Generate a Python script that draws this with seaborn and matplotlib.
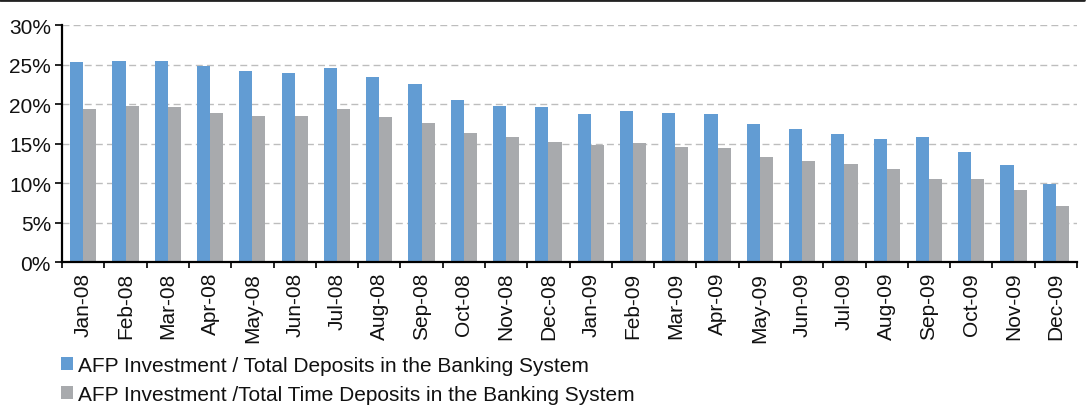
import numpy as np
import pandas as pd
import matplotlib
matplotlib.use("Agg")
import matplotlib.pyplot as plt
import seaborn as sns
from matplotlib.lines import Line2D
from matplotlib.patches import Patch
from matplotlib.ticker import FuncFormatter, FixedLocator

months = ["Jan-08", "Feb-08", "Mar-08", "Apr-08", "May-08", "Jun-08", "Jul-08", "Aug-08",
          "Sep-08", "Oct-08", "Nov-08", "Dec-08", "Jan-09", "Feb-09", "Mar-09", "Apr-09",
          "May-09", "Jun-09", "Jul-09", "Aug-09", "Sep-09", "Oct-09", "Nov-09", "Dec-09"]
total_deposits = [25.4, 25.5, 25.5, 24.9, 24.2, 24.0, 24.6, 23.5,
                  22.6, 20.5, 19.8, 19.7, 18.8, 19.1, 18.9, 18.8,
                  17.5, 16.9, 16.2, 15.6, 15.9, 13.9, 12.3, 9.9]
time_deposits = [19.4, 19.8, 19.7, 18.9, 18.5, 18.5, 19.4, 18.4,
                 17.6, 16.4, 15.9, 15.2, 14.8, 15.1, 14.6, 14.5,
                 13.3, 12.8, 12.4, 11.8, 10.5, 10.5, 9.1, 7.1]
series_names = ["AFP Investment / Total Deposits in the Banking System",
                "AFP Investment /Total Time Deposits in the Banking System"]
colors = ["#629CD3", "#A8AAAD"]

df = pd.DataFrame({
    "month": months * 2,
    "value": total_deposits + time_deposits,
    "series": [series_names[0]] * len(months) + [series_names[1]] * len(months),
})

sns.set_theme(style="white")
plt.rcParams["font.family"] = ["Liberation Sans", "DejaVu Sans"]

fig = plt.figure(figsize=(10.89, 4.06), dpi=100)
ax = fig.add_axes([0.057, 0.352, 0.932, 0.583])

sns.barplot(data=df, x="month", y="value", hue="series", order=months,
            hue_order=series_names, palette=colors, width=0.62, gap=0,
            saturation=1, edgecolor="none", linewidth=0, ax=ax, legend=False)

ax.set_xlim(-0.5, len(months) - 0.5)
ax.set_ylim(0, 30)
ax.set_yticks(np.arange(0, 31, 5))
ax.yaxis.set_major_formatter(FuncFormatter(lambda v, p: f"{v:.0f}%"))
ax.grid(axis="y", linestyle=(0, (5, 3)), color="#BDBDBD", linewidth=1.0)
ax.set_axisbelow(True)
ax.set_xlabel("")
ax.set_ylabel("")

for s in ["top", "right"]:
    ax.spines[s].set_visible(False)
for s in ["left", "bottom"]:
    ax.spines[s].set_color("black")
    ax.spines[s].set_linewidth(1.6)

ax.tick_params(axis="y", which="major", direction="out", length=5, width=1.2,
               color="black", labelsize=15, pad=3, left=True, labelcolor="#111111")
ax.set_xticks(np.arange(len(months)))
ax.set_xticklabels(months, rotation=90)
ax.tick_params(axis="x", which="major", length=0, labelsize=15, pad=7, labelcolor="#111111")
ax.xaxis.set_minor_locator(FixedLocator(np.arange(-0.5, len(months), 1.0)))
ax.tick_params(axis="x", which="minor", direction="out", length=4, width=1.2,
               color="black", bottom=True)

# top border line
fig.add_artist(Line2D([0, 0.995], [0.997, 0.997], transform=fig.transFigure,
                      color="#222222", linewidth=2))

handles = [Patch(facecolor=c, edgecolor="none") for c in colors]
fig.legend(handles, series_names, loc="upper left", bbox_to_anchor=(0.056, 0.121),
           frameon=False, fontsize=15, handlelength=0.58, handleheight=0.58,
           handletextpad=0.22, labelspacing=0.48, borderaxespad=0, borderpad=0,
           labelcolor="#111111")

fig.savefig("out.png", dpi=100)
